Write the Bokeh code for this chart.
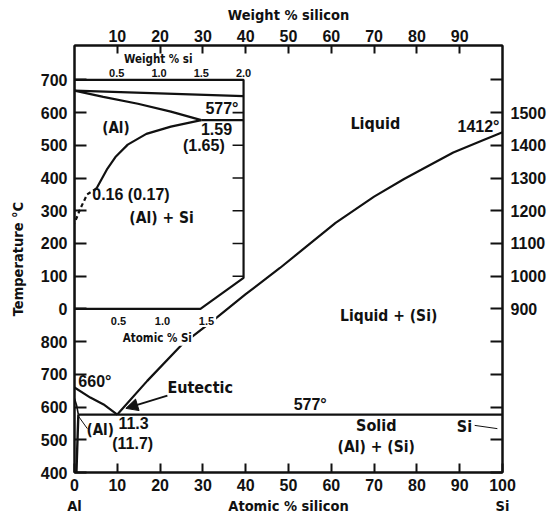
from bokeh.plotting import figure
from bokeh.models import Range1d, LinearAxis, FixedTicker, Arrow, NormalHead
from bokeh.core.properties import value
from bokeh.embed import file_html
from bokeh.resources import INLINE

# ---------------- data ----------------
atomic_ticks = [0, 10, 20, 30, 40, 50, 60, 70, 80, 90, 100]
weight_ticks = [10, 20, 30, 40, 50, 60, 70, 80, 90]
temp_ticks = [400, 500, 600, 700, 800, 900, 1000, 1100, 1200, 1300, 1400, 1500, 1600]
left_tick_labels = ["400", "500", "600", "700", "800", "0", "100", "200", "300", "400", "500", "600", "700"]
right_tick_labels = ["", "", "", "", "", "900", "1000", "1100", "1200", "1300", "1400", "1500", ""]
bottom_names_at = [0, 50, 100]
bottom_names = ["Al", "Atomic % silicon", "Si"]

# main diagram (atomic % Si, deg C)
liq_si_x = [10, 17, 25, 32.5, 40, 48, 53, 61, 70, 77, 81, 88.5, 95, 100]
liq_si_t = [577, 680, 790, 866, 945, 1025, 1078, 1163, 1243, 1297, 1325, 1378, 1413, 1440]
liq_al_x = [0, 3.7, 6.8, 10]
liq_al_t = [660, 629, 608, 577]
eut_x = [0.9, 100]
eut_t = [577, 577]
sol_al_x = [0, 0.5, 0.9]
sol_al_t = [626, 605, 577]
solv_al_x = [0.9, 0.75, 0.6, 0.45]
solv_al_t = [577, 520, 460, 400]

# inset (weight % Si, deg C)
inset_wt_ticks = [0.5, 1.0, 1.5, 2.0]
inset_wt_labels = ["0.5", "1.0", "1.5", "2.0"]
inset_at_ticks = [0.5, 1.0, 1.5]
inset_at_labels = ["0.5", "1.0", "1.5"]
inset_t_ticks = [100, 200, 300, 400, 500, 600]
inset_frame_wt = [0, 1.49, 2.0, 2.0, 0]
inset_frame_t = [0, 0, 95, 700, 700]
inset_liq_wt = [0, 2.0]
inset_liq_t = [667, 650]
inset_sol_wt = [0, 0.34, 0.75, 1.14, 1.5]
inset_sol_t = [667, 648, 627, 603, 577]
inset_eut_wt = [1.5, 2.0]
inset_eut_t = [577, 577]
inset_solv_wt = [1.5, 1.14, 0.85, 0.63, 0.49, 0.39, 0.26]
inset_solv_t = [577, 557, 535, 502, 466, 429, 368]
inset_solv_dash_wt = [0.26, 0.15, 0.07, 0.0]
inset_solv_dash_t = [368, 350, 307, 262]

AT_TO_WT = 28.09 / 26.98   # atomic % -> weight % (dilute Si in Al)

# ---------------- layout ----------------
T0, T1 = 400, 1705
INSET_OFFSET = 900            # inset 0 deg sits at main 900 deg
INSET_SPAN_AT = 39.5          # inset 2.0 wt% sits at 39.5 at% of main axis

NUM_F = "Liberation Sans"
WORD_F = "DejaVu Sans Condensed"
NUM = value(NUM_F)
WORD = value(WORD_F)
INK = "#111111"

p = figure(width=549, height=520, x_range=Range1d(0, 100), y_range=Range1d(T0, T1),
           output_backend="svg", toolbar_location=None,
           x_axis_location=None, y_axis_location=None,
           min_border_left=74, min_border_right=47, min_border_top=45, min_border_bottom=48)
p.grid.visible = False
p.outline_line_color = INK
p.outline_line_width = 2
p.background_fill_color = "white"
p.border_fill_color = "white"

p.extra_x_ranges = {"inx": Range1d(0, 2.0 * 100 / INSET_SPAN_AT)}
p.extra_y_ranges = {"iny": Range1d(T0 - INSET_OFFSET, T1 - INSET_OFFSET)}


def style_axis(ax, tick_in, size="16px"):
    ax.major_tick_in = tick_in
    ax.major_tick_out = 0
    ax.minor_tick_line_color = None
    ax.major_tick_line_width = 2
    ax.major_tick_line_color = INK
    ax.axis_line_width = 2
    ax.axis_line_color = INK
    ax.major_label_text_font = NUM_F
    ax.major_label_text_font_style = "bold"
    ax.major_label_text_font_size = size
    ax.major_label_text_color = INK
    ax.axis_label_text_font = WORD_F
    ax.axis_label_text_font_style = "bold"
    ax.axis_label_text_font_size = "14.5px"
    ax.axis_label_text_color = INK


left = LinearAxis(ticker=FixedTicker(ticks=temp_ticks),
                  major_label_overrides=dict(zip(temp_ticks, left_tick_labels)),
                  axis_label="Temperature °C")
style_axis(left, 12)
left.major_label_standoff = 7
left.axis_label_standoff = 12
p.add_layout(left, "left")

right = LinearAxis(ticker=FixedTicker(ticks=temp_ticks),
                   major_label_overrides=dict(zip(temp_ticks, right_tick_labels)))
style_axis(right, 12)
right.major_label_standoff = 8
p.add_layout(right, "right")

top = LinearAxis(ticker=FixedTicker(ticks=weight_ticks), axis_label="Weight % silicon")
style_axis(top, 8)
top.major_label_standoff = 4
top.axis_label_standoff = 4
p.add_layout(top, "above")

bottom = LinearAxis(ticker=FixedTicker(ticks=atomic_ticks))
style_axis(bottom, 9)
bottom.major_label_standoff = 6
p.add_layout(bottom, "below")

bottom2 = LinearAxis(ticker=FixedTicker(ticks=bottom_names_at),
                     major_label_overrides=dict(zip(bottom_names_at, bottom_names)))
style_axis(bottom2, 0)
bottom2.axis_line_color = None
bottom2.major_tick_line_color = None
bottom2.major_label_text_font = WORD_F
bottom2.major_label_text_font_size = "14.5px"
bottom2.major_label_standoff = 4
p.add_layout(bottom2, "below")

# ---------------- main diagram ----------------
LW = 2.2
p.line(liq_si_x, liq_si_t, line_color=INK, line_width=LW)
p.line(liq_al_x, liq_al_t, line_color=INK, line_width=LW)
p.line(eut_x, eut_t, line_color=INK, line_width=LW)
p.line(sol_al_x, sol_al_t, line_color=INK, line_width=1.6)
p.line(solv_al_x, solv_al_t, line_color=INK, line_width=2.4)
p.line([3.0, 0.93], [534, 572], line_color=INK, line_width=1)      # (Al) leader
p.line([93.5, 98.8], [544, 534], line_color=INK, line_width=1)     # Si leader

p.add_layout(Arrow(end=NormalHead(size=12, fill_color=INK, line_color=INK),
                   x_start=21.7, y_start=635, x_end=12.0, y_end=596,
                   line_color=INK, line_width=2))


def label(x, y, s, size, font=NUM, align="center", inset=False, bg=None):
    kw = dict(text_font=font, text_font_size=size, text_font_style="bold",
              text_color=INK, text_align=align, text_baseline="middle")
    if bg:
        kw.update(background_fill_color=bg, padding=1)
    if inset:
        kw.update(x_range_name="inx", y_range_name="iny")
    p.text(x=[x], y=[y], text=[s], **kw)


label(70.3, 1466, "Liquid", "16px", WORD)
label(99.3, 1457, "1412°", "16px", NUM, "right")
label(73.4, 877, "Liquid + (Si)", "15.5px", WORD)
label(51.2, 608, "577°", "16px", NUM, "left")
label(70.5, 544, "Solid", "16px", WORD)
label(70.5, 479, "(Al) + (Si)", "15.5px", WORD)
label(91.1, 541, "Si", "16px", WORD)
label(21.7, 660, "Eutectic", "16px", WORD, "left")
label(0.9, 678, "660°", "16px", NUM, "left")
label(2.8, 531, "(Al)", "15px", WORD, "left")
label(13.8, 550, "11.3", "16px", NUM)
label(13.6, 489, "(11.7)", "16px", NUM)

# ---------------- inset ----------------
IN = dict(x_range_name="inx", y_range_name="iny")
p.patch(inset_frame_wt, inset_frame_t, fill_color="white", line_color=INK, line_width=LW, **IN)
p.line(inset_liq_wt, inset_liq_t, line_color=INK, line_width=LW, **IN)
p.line(inset_sol_wt, inset_sol_t, line_color=INK, line_width=LW, **IN)
p.line(inset_eut_wt, inset_eut_t, line_color=INK, line_width=LW, **IN)
p.line(inset_solv_wt, inset_solv_t, line_color=INK, line_width=LW, **IN)
p.line(inset_solv_dash_wt, inset_solv_dash_t, line_color=INK, line_width=LW,
       line_dash="4 3", **IN)
TICK_WT = 0.13
p.segment(x0=[2.0] * len(inset_t_ticks), y0=inset_t_ticks,
          x1=[2.0 - TICK_WT] * len(inset_t_ticks), y1=inset_t_ticks,
          line_color=INK, line_width=1.6, **IN)

p.text(x=inset_wt_ticks, y=[721] * len(inset_wt_ticks), text=inset_wt_labels,
       text_font=NUM, text_font_size="11px", text_font_style="bold", text_color=INK,
       text_align="center", text_baseline="middle", **IN)
p.text(x=[a * AT_TO_WT for a in inset_at_ticks], y=[-37] * len(inset_at_ticks),
       text=inset_at_labels, text_font=NUM, text_font_size="11px", text_font_style="bold",
       text_color=INK, text_align="center", text_baseline="middle",
       background_fill_color="white", padding=2, **IN)

label(0.99, 765, "Weight % si", "11.5px", WORD, inset=True)
label(1.94, 612, "577°", "16px", NUM, "right", inset=True)
label(1.68, 551, "1.59", "16px", NUM, inset=True)
label(1.53, 499, "(1.65)", "16px", NUM, inset=True)
label(0.49, 554, "(Al)", "15px", WORD, inset=True)
label(0.21, 350, "0.16 (0.17)", "16px", NUM, "left", inset=True)
label(1.03, 277, "(Al) + Si", "15.5px", WORD, inset=True)
label(0.98, -88, "Atomic % Si", "11.5px", WORD, inset=True, bg="white")

open("out.html", "w").write(file_html(p, INLINE))
